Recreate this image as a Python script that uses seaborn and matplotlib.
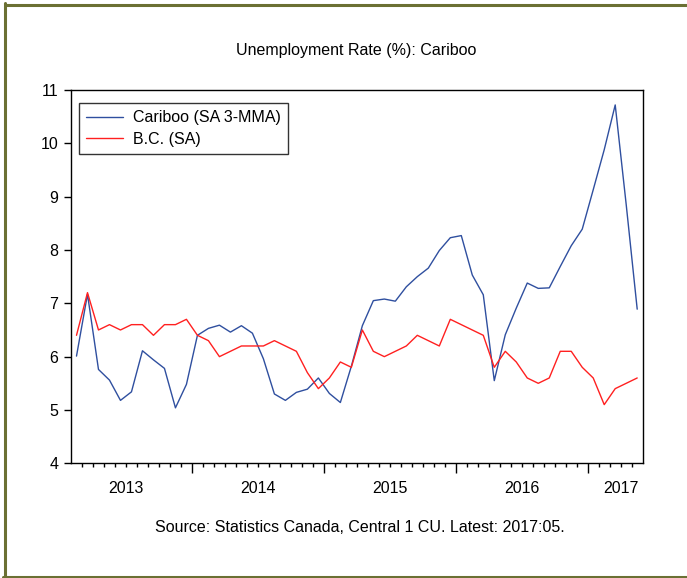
import numpy as np
import pandas as pd
import matplotlib
matplotlib.use('Agg')
import matplotlib.pyplot as plt
from matplotlib.lines import Line2D
import seaborn as sns

###############################################################################
##DATA - monthly, 2013:02 to 2017:05

months = pd.period_range('2013-02', '2017-05', freq='M').strftime('%Y:%m').tolist()

cariboo = [6.01, 7.17, 5.76, 5.56, 5.18, 5.34, 6.11, 5.94, 5.78, 5.04,
           5.48, 6.40, 6.53, 6.59, 6.46, 6.58, 6.44, 5.96, 5.30, 5.18,
           5.33, 5.39, 5.60, 5.31, 5.14, 5.82, 6.58, 7.05, 7.08, 7.04,
           7.31, 7.50, 7.66, 7.99, 8.23, 8.27, 7.53, 7.16, 5.55, 6.41,
           6.91, 7.38, 7.28, 7.29, 7.69, 8.08, 8.39, 9.13, 9.88, 10.72,
           8.85, 6.89]

bc = [6.4, 7.2, 6.5, 6.6, 6.5, 6.6, 6.6, 6.4, 6.6, 6.6,
      6.7, 6.4, 6.3, 6.0, 6.1, 6.2, 6.2, 6.2, 6.3, 6.2,
      6.1, 5.7, 5.4, 5.6, 5.9, 5.8, 6.5, 6.1, 6.0, 6.1,
      6.2, 6.4, 6.3, 6.2, 6.7, 6.6, 6.5, 6.4, 5.8, 6.1,
      5.9, 5.6, 5.5, 5.6, 6.1, 6.1, 5.8, 5.6, 5.1, 5.4,
      5.5, 5.6]

series_names = ['Cariboo (SA 3-MMA)', 'B.C. (SA)']
year_labels = ['2013', '2014', '2015', '2016', '2017']

Table = pd.DataFrame({'month': months,
                      series_names[0]: cariboo,
                      series_names[1]: bc})
Table['t'] = np.arange(len(Table))
long = Table.melt(id_vars=['month', 't'], value_vars=series_names,
                  var_name='series', value_name='rate')

###############################################################################
##PLOT

sns.set_style('white')
plt.rcParams['font.family'] = ['Liberation Sans', 'DejaVu Sans']
plt.rcParams['text.color'] = 'black'
plt.rcParams['xtick.color'] = 'black'
plt.rcParams['ytick.color'] = 'black'

fig = plt.figure(figsize=(6.87, 5.78), dpi=100)
ax = fig.add_axes([71/687, 1 - 463.3/578, (642.7 - 71)/687, (463.3 - 90)/578])

sns.lineplot(data=long, x='t', y='rate', hue='series', hue_order=series_names,
             palette=['#2f4f9f', '#ff2020'], linewidth=1.0, ax=ax)

n = len(Table)
ax.set_xlim(-0.5, n - 0.5)
ax.set_ylim(4, 11)
ax.set_yticks(range(4, 12))
ax.set_xlabel('')
ax.set_ylabel('')

# year boundaries = long ticks, month boundaries = short ticks
is_jan = Table['month'].str.endswith(':01')
ax.set_xticks(Table['t'][is_jan] - 0.5)
ax.set_xticklabels([])
ax.set_xticks(Table['t'][1:] - 0.5, minor=True)
ax.tick_params(axis='x', which='major', direction='out', length=7, width=1, color='black')
ax.tick_params(axis='x', which='minor', direction='out', length=3, width=1, color='black')
ax.tick_params(axis='y', direction='out', length=5, width=1, color='black',
               labelsize=11.5, pad=4, labelcolor='black')
ax.yaxis.set_ticks_position('left')
ax.xaxis.set_ticks_position('bottom')

# year labels centred under each year
sec = ax.secondary_xaxis('bottom')
sec.set_xticks([4.5, 16.5, 28.5, 40.5, 49.5])
sec.set_xticklabels(year_labels)
sec.tick_params(length=0, labelsize=11.5, pad=13, labelcolor='black')
sec.spines['bottom'].set_visible(False)

for s in ax.spines.values():
    s.set_visible(True)
    s.set_color('black')
    s.set_linewidth(1.0)

leg = ax.legend(loc='upper left', bbox_to_anchor=(0.014, 0.965), borderaxespad=0,
                frameon=True, fancybox=False, edgecolor='black', fontsize=11.5,
                handlelength=2.3, labelspacing=0.4, borderpad=0.45,
                handletextpad=0.6)
leg.get_frame().set_linewidth(1.0)
leg.get_frame().set_boxstyle('square', pad=0)
for txt in leg.get_texts():
    txt.set_color('black')

fig.text(356/687, 1 - 50/578, 'Unemployment Rate (%): Cariboo',
         ha='center', va='center', fontsize=11.5, color='black')
fig.text(360/687, 1 - 528/578, 'Source: Statistics Canada, Central 1 CU. Latest: 2017:05.',
         ha='center', va='center', fontsize=11.5, color='black')

# olive frame round the picture
olive = '#6b7033'
fig.add_artist(Line2D([4.5/687, 1], [1 - 4.5/578, 1 - 4.5/578], color=olive, lw=2.2))
fig.add_artist(Line2D([4.5/687, 4.5/687], [1 - 3/578, 1.5/578], color=olive, lw=2.2))
fig.add_artist(Line2D([3/687, 1], [1.5/578, 1.5/578], color=olive, lw=2.2))

fig.savefig('out.png', dpi=100)
